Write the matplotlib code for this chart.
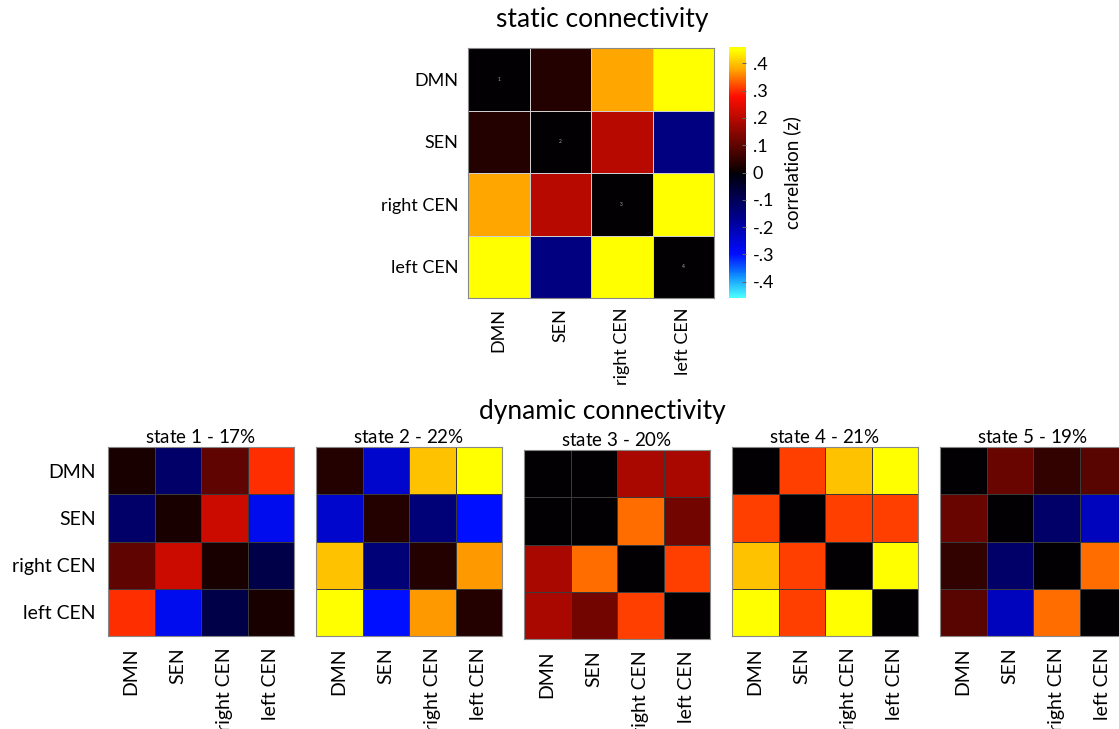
import numpy as np
import matplotlib
matplotlib.use("Agg")
import matplotlib.pyplot as plt
from matplotlib.colors import LinearSegmentedColormap

plt.rcParams['font.family'] = ['Lato', 'DejaVu Sans']
plt.rcParams['mathtext.fontset'] = 'custom'
plt.rcParams['mathtext.rm'] = 'Lato'
plt.rcParams['mathtext.it'] = 'Lato:italic'

networks = ["DMN", "SEN", "right CEN", "left CEN"]

static_conn = [
    [0.00, 0.03, 0.38, 0.45],
    [0.03, 0.00, 0.20, -0.15],
    [0.38, 0.20, 0.00, 0.45],
    [0.45, -0.15, 0.45, 0.00],
]

state_names = ["state 1", "state 2", "state 3", "state 4", "state 5"]
state_pcts = ["17%", "22%", "20%", "21%", "19%"]

state1 = [
    [0.02, -0.12, 0.10, 0.30],
    [-0.12, 0.02, 0.22, -0.28],
    [0.10, 0.22, 0.02, -0.08],
    [0.30, -0.28, -0.08, 0.02],
]
state2 = [
    [0.03, -0.24, 0.40, 0.45],
    [-0.24, 0.03, -0.14, -0.30],
    [0.40, -0.14, 0.03, 0.37],
    [0.45, -0.30, 0.37, 0.03],
]
state3 = [
    [0.00, 0.00, 0.18, 0.18],
    [0.00, 0.00, 0.34, 0.12],
    [0.18, 0.34, 0.00, 0.31],
    [0.18, 0.12, 0.31, 0.00],
]
state4 = [
    [0.00, 0.31, 0.40, 0.45],
    [0.31, 0.00, 0.31, 0.31],
    [0.40, 0.31, 0.00, 0.45],
    [0.45, 0.31, 0.45, 0.00],
]
state5 = [
    [0.00, 0.11, 0.05, 0.09],
    [0.11, 0.00, -0.12, -0.22],
    [0.05, -0.12, 0.00, 0.34],
    [0.09, -0.22, 0.34, 0.00],
]
states = [state1, state2, state3, state4, state5]

cbar_ticks = [0.4, 0.3, 0.2, 0.1, 0.0, -0.1, -0.2, -0.3, -0.4]
cbar_ticklabels = [".4", ".3", ".2", ".1", "0", "-.1", "-.2", "-.3", "-.4"]

VMIN, VMAX = -0.46, 0.46

def pos(v):
    return (v - VMIN) / (VMAX - VMIN)

cmap = LinearSegmentedColormap.from_list("coldhot", [
    (pos(-0.46), (0.30, 1.00, 1.00)),
    (pos(-0.38), (0.05, 0.55, 1.00)),
    (pos(-0.30), (0.00, 0.05, 1.00)),
    (pos(-0.18), (0.00, 0.00, 0.60)),
    (pos(0.00), (0.00, 0.00, 0.02)),
    (pos(0.01), (0.06, 0.00, 0.00)),
    (pos(0.28), (1.00, 0.05, 0.00)),
    (pos(0.37), (1.00, 0.60, 0.00)),
    (pos(0.45), (1.00, 1.00, 0.00)),
    (pos(0.46), (1.00, 1.00, 0.00)),
])

W, H = 1119, 729
fig = plt.figure(figsize=(W / 100, H / 100), dpi=100)

def add_ax(l, t, r, b):
    return fig.add_axes([l / W, 1 - b / H, (r - l) / W, (b - t) / H])

def draw_matrix(ax, data, edge, lw, ylabels, fs):
    arr = np.array(data)
    m = ax.pcolormesh(arr, cmap=cmap, vmin=VMIN, vmax=VMAX,
                      edgecolors=edge, linewidth=lw)
    ax.set_xlim(0, 4)
    ax.set_ylim(4, 0)
    ax.set_xticks(np.arange(4) + 0.5)
    ax.set_xticklabels(networks, rotation=90, fontsize=fs)
    ax.set_yticks(np.arange(4) + 0.5)
    if ylabels:
        ax.set_yticklabels(networks, fontsize=fs)
    else:
        ax.set_yticklabels([])
    ax.tick_params(length=0, pad=7)
    for s in ax.spines.values():
        s.set_color('#888888')
        s.set_linewidth(0.8)
    return m

# static panel
ax_s = add_ax(468, 48, 714, 298)
m = draw_matrix(ax_s, static_conn, '#cfcfcf', 0.6, True, 13)
for i in range(4):
    ax_s.text(i + 0.5, i + 0.5, str(i + 1), color='#aaaaaa', fontsize=3.5,
              ha='center', va='center')
fig.text(602 / W, 1 - 20 / H, "static connectivity", ha='center', va='center',
         fontsize=19)

# colorbar
cax = add_ax(729, 47, 746, 298)
cb = fig.colorbar(m, cax=cax)
cb.set_ticks(cbar_ticks)
cb.set_ticklabels(cbar_ticklabels)
cb.ax.tick_params(labelsize=13, length=3, direction='in', color='#666666', pad=5)
cb.outline.set_visible(False)
cb.set_label("correlation (z)", fontsize=13.5, labelpad=6)

# dynamic panels
fig.text(602 / W, 1 - 411 / H, "dynamic connectivity", ha='center', va='center',
         fontsize=19)
tops = [447, 447, 450, 447, 447]
for i, (st, nm, pc) in enumerate(zip(states, state_names, state_pcts)):
    l = 108 + 208 * i
    t = tops[i]
    ax = add_ax(l, t, l + 186, t + 189)
    draw_matrix(ax, st, '#3a3a3a', 0.6, i == 0, 14)
    ax.tick_params(axis='x', pad=8)
    ax.tick_params(axis='y', pad=9)
    ax.set_title(nm + " - $\\mathit{" + pc.replace("%", "\\%") + "}$",
                 fontsize=13.5, pad=3)

fig.savefig("out.png", dpi=100)
